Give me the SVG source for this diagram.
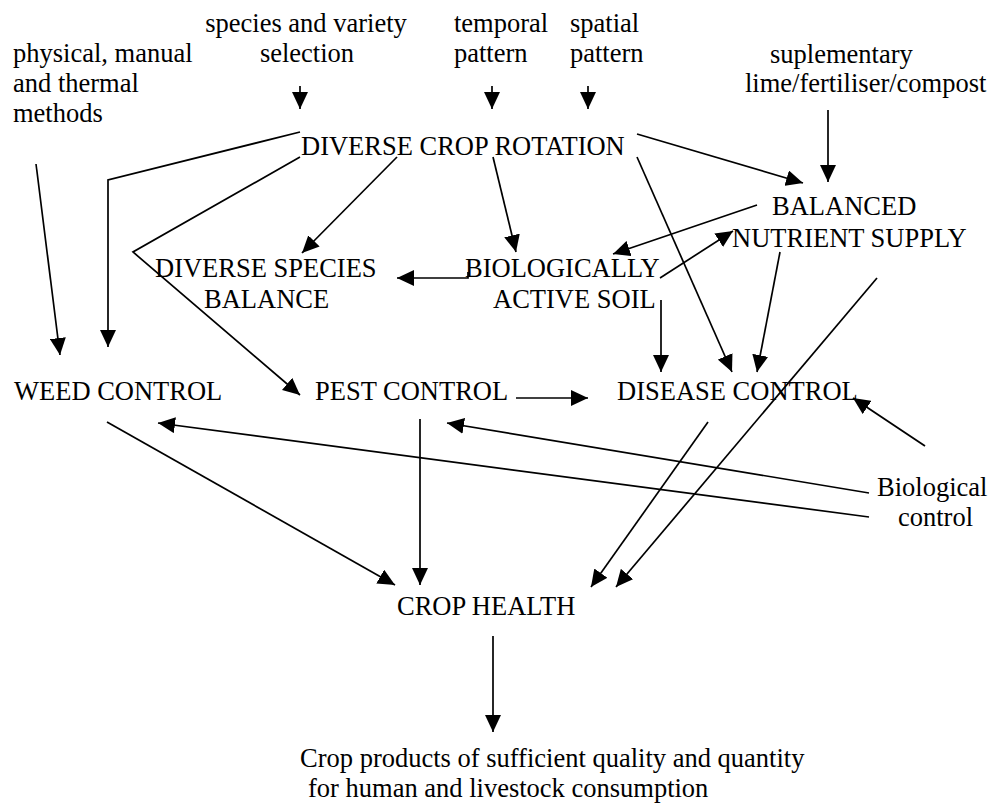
<svg xmlns="http://www.w3.org/2000/svg" width="991" height="803" viewBox="0 0 991 803">
<defs>
<style>
text{font-family:"Liberation Serif","Times New Roman",serif;font-size:26.5px;fill:#000}
.c{fill:none;stroke:#000;stroke-width:1.7}
</style>
<marker id="a" markerUnits="userSpaceOnUse" markerWidth="17" markerHeight="16" refX="17" refY="8" orient="auto"><path d="M0,0 L17,8 L0,16 z" fill="#000"/></marker>
</defs>
<rect width="991" height="803" fill="#fff"/>
<g id="physical"><text x="13" y="62">physical, manual</text><text x="13" y="92">and thermal</text><text x="13" y="122">methods</text></g>
<g id="species"><text x="306" y="32" text-anchor="middle">species and variety</text><text x="307" y="62" text-anchor="middle">selection</text></g>
<g id="temporal"><text x="454" y="32">temporal</text><text x="454" y="62">pattern</text></g>
<g id="spatial"><text x="570" y="32">spatial</text><text x="570" y="62">pattern</text></g>
<g id="suplementary"><text x="770" y="63">suplementary</text><text x="745" y="92">lime/fertiliser/compost</text></g>
<g id="rotation"><text x="301" y="155">DIVERSE CROP ROTATION</text></g>
<g id="balanced"><text x="772" y="215">BALANCED</text><text x="732" y="247">NUTRIENT SUPPLY</text></g>
<g id="species-balance"><text x="155" y="277">DIVERSE SPECIES</text><text x="204" y="308">BALANCE</text></g>
<g id="soil"><text x="465" y="277">BIOLOGICALLY</text><text x="493" y="308">ACTIVE SOIL</text></g>
<g id="weed"><text x="14" y="400">WEED CONTROL</text></g>
<g id="pest"><text x="315" y="400">PEST CONTROL</text></g>
<g id="disease"><text x="617" y="400">DISEASE CONTROL</text></g>
<g id="biological"><text x="877" y="496">Biological</text><text x="898" y="526">control</text></g>
<g id="health"><text x="397" y="615">CROP HEALTH</text></g>
<g id="products"><text x="300" y="767">Crop products of sufficient quality and quantity</text><text x="308" y="797">for human and livestock consumption</text></g>
<g id="connectors" class="c">
<line class="c" x1="300" y1="86" x2="300" y2="109" marker-end="url(#a)"/>
<line class="c" x1="492" y1="86" x2="492" y2="109" marker-end="url(#a)"/>
<line class="c" x1="588" y1="86" x2="588" y2="109" marker-end="url(#a)"/>
<line class="c" x1="828" y1="110" x2="828" y2="182" marker-end="url(#a)"/>
<line class="c" x1="637" y1="134" x2="803" y2="183" marker-end="url(#a)"/>
<polyline class="c" points="300,132 108,180 108,347" marker-end="url(#a)"/>
<polyline class="c" points="300,157 133,252 300,395" marker-end="url(#a)"/>
<line class="c" x1="397" y1="157" x2="302" y2="253" marker-end="url(#a)"/>
<line class="c" x1="493" y1="157" x2="516" y2="252" marker-end="url(#a)"/>
<line class="c" x1="637" y1="157" x2="732" y2="372" marker-end="url(#a)"/>
<line class="c" x1="36" y1="164" x2="60" y2="355" marker-end="url(#a)"/>
<polyline class="c" points="468,272 468,278 397,278" marker-end="url(#a)"/>
<line class="c" x1="757" y1="205" x2="613" y2="254" marker-end="url(#a)"/>
<line class="c" x1="660" y1="278" x2="733" y2="231" marker-end="url(#a)"/>
<line class="c" x1="661" y1="300" x2="661" y2="372" marker-end="url(#a)"/>
<line class="c" x1="780" y1="252" x2="757" y2="372" marker-end="url(#a)"/>
<line class="c" x1="877" y1="278" x2="616" y2="587" marker-end="url(#a)"/>
<line class="c" x1="516" y1="398" x2="588" y2="398" marker-end="url(#a)"/>
<line class="c" x1="107" y1="422" x2="395" y2="585" marker-end="url(#a)"/>
<line class="c" x1="420" y1="419" x2="420" y2="585" marker-end="url(#a)"/>
<line class="c" x1="869" y1="517" x2="158" y2="423" marker-end="url(#a)"/>
<line class="c" x1="869" y1="493" x2="447" y2="423" marker-end="url(#a)"/>
<line class="c" x1="708" y1="422" x2="591" y2="587" marker-end="url(#a)"/>
<line class="c" x1="925" y1="446" x2="853" y2="398" marker-end="url(#a)"/>
<line class="c" x1="493" y1="636" x2="493" y2="732" marker-end="url(#a)"/>
</g>
</svg>
